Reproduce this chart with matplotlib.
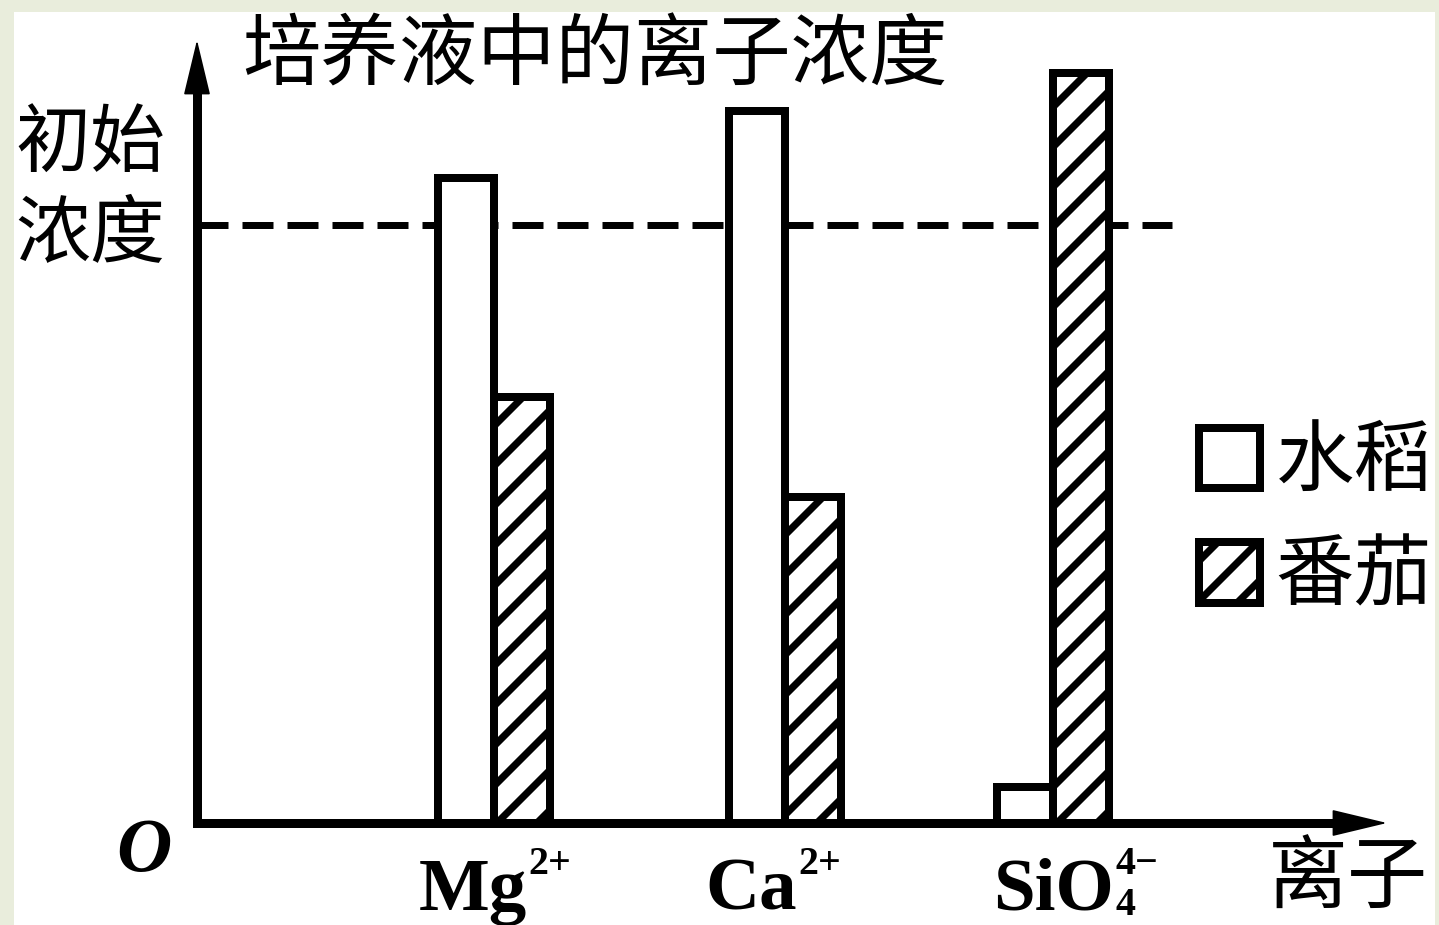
import matplotlib
matplotlib.use("Agg")
import matplotlib.pyplot as plt
from matplotlib.patches import Rectangle

# data: ion concentration in culture solution after growth, % of initial
ions = ["Mg", "Ca", "SiO"]
ion_sup = ["2+", "2+", "4\u2212"]
ion_sub = ["", "", "4"]
rice = [107.8, 119.0, 6.0]
tomato = [71.2, 54.4, 125.3]
initial_level = 100
series_names = ["水稻", "番茄"]

W, H, DPI = 1439, 925, 120
cjk = ["Noto Sans CJK SC", "DejaVu Sans"]
serif = "Liberation Serif"
green = "#E9EDDC"

# layout, pixels of the output image
X0, Y0, X1, Y1 = 197, 823, 1387, 40
px_per_unit = 598.5 / 100
group_x = [296.5, 588, 856]
label_dx = [-21, -34, 0]
bar_w = 56


def fx(px):
    return px / W


def fy(py):
    return 1 - py / H


def pt(px):
    return px * 72 / DPI


plt.rcParams["hatch.linewidth"] = 4.3
plt.rcParams["hatch.color"] = "black"

fig = plt.figure(figsize=(W / DPI, H / DPI), dpi=DPI, facecolor="white")
ax = fig.add_axes([fx(X0), fy(Y0), (X1 - X0) / W, (Y0 - Y1) / H])
ax.set_xlim(0, X1 - X0)
ax.set_ylim(0, (Y0 - Y1) / px_per_unit)
ax.axis("off")

lw = pt(8)
b1 = ax.bar([g - bar_w / 2 for g in group_x], rice, width=bar_w,
            facecolor="white", edgecolor="black", linewidth=lw, zorder=2)
b2 = ax.bar([g + bar_w / 2 for g in group_x], tomato, width=bar_w,
            facecolor="white", edgecolor="black", linewidth=lw, hatch="/", zorder=2)

# dashed initial concentration line
dash_lw = pt(7)
ax.plot([0, 975], [initial_level, initial_level], color="black", lw=dash_lw,
        linestyle=(0, (pt(31) / dash_lw, pt(14) / dash_lw)), zorder=1)

# axes with arrows
ytop = ax.get_ylim()[1]
ax.plot([0, 0, 1165], [ytop - 30 / px_per_unit, 0, 0], color="black", lw=pt(9),
        solid_joinstyle="miter", solid_capstyle="butt", clip_on=False, zorder=3)
head = dict(arrowstyle="-|>,head_length=%.1f,head_width=%.1f" % (pt(50), pt(12)),
            color="black", lw=1, shrinkA=0, shrinkB=0, mutation_scale=1)
ax.annotate("", xy=(0, ytop), xytext=(0, ytop - 60 / px_per_unit),
            xycoords="data", arrowprops=head, annotation_clip=False)
ax.annotate("", xy=(X1 - X0, 0), xytext=(X1 - X0 - 60, 0),
            xycoords="data", arrowprops=head, annotation_clip=False)

# ion labels under the axis
for g, dx, name, sup, sub in zip(group_x, label_dx, ions, ion_sup, ion_sub):
    main = ax.annotate(name, xy=(g + dx, 0), xytext=(0, -pt(87)),
                       textcoords="offset points", ha="center", va="baseline",
                       fontsize=45, family=serif, fontweight="bold",
                       annotation_clip=False)
    ax.annotate(sup, xy=(1, 1), xycoords=main, xytext=(1, pt(12)),
                textcoords="offset points", ha="left", va="top",
                fontsize=24, family=serif, fontweight="bold")
    if sub:
        ax.annotate(sub, xy=(1, 0), xycoords=main, xytext=(1, pt(11)),
                    textcoords="offset points", ha="left", va="baseline",
                    fontsize=24, family=serif, fontweight="bold")

fig.text(fx(595), fy(57), "培养液中的离子浓度", family=cjk, fontsize=47,
         ha="center", va="center")
fig.text(fx(90), fy(145), "初始", family=cjk, fontsize=45, ha="center", va="center")
fig.text(fx(90), fy(235), "浓度", family=cjk, fontsize=45, ha="center", va="center")
fig.text(fx(1348), fy(880), "离子", family=cjk, fontsize=48, ha="center", va="center")
fig.text(fx(144), fy(871), "O", family=serif, style="italic", fontweight="bold",
         fontsize=46, ha="center", va="baseline")

fs = 47
ax.legend([b1, b2], series_names, loc="center left",
          bbox_to_anchor=(fx(1199), fy(520)), bbox_transform=fig.transFigure,
          frameon=False, borderpad=0, borderaxespad=0,
          handlelength=61 / (fs * DPI / 72), handleheight=64 / (fs * DPI / 72),
          handletextpad=0.2, labelspacing=0.43,
          prop={"family": cjk, "size": fs})

# light frame around the picture
for x, y, w, h in [(0, H - 12, W, 12), (0, 0, 14, H), (W - 4, 0, 4, H)]:
    fig.add_artist(Rectangle((x / W, y / H), w / W, h / H, transform=fig.transFigure,
                             facecolor=green, edgecolor="none", zorder=100))

fig.savefig("out.png", dpi=DPI)
